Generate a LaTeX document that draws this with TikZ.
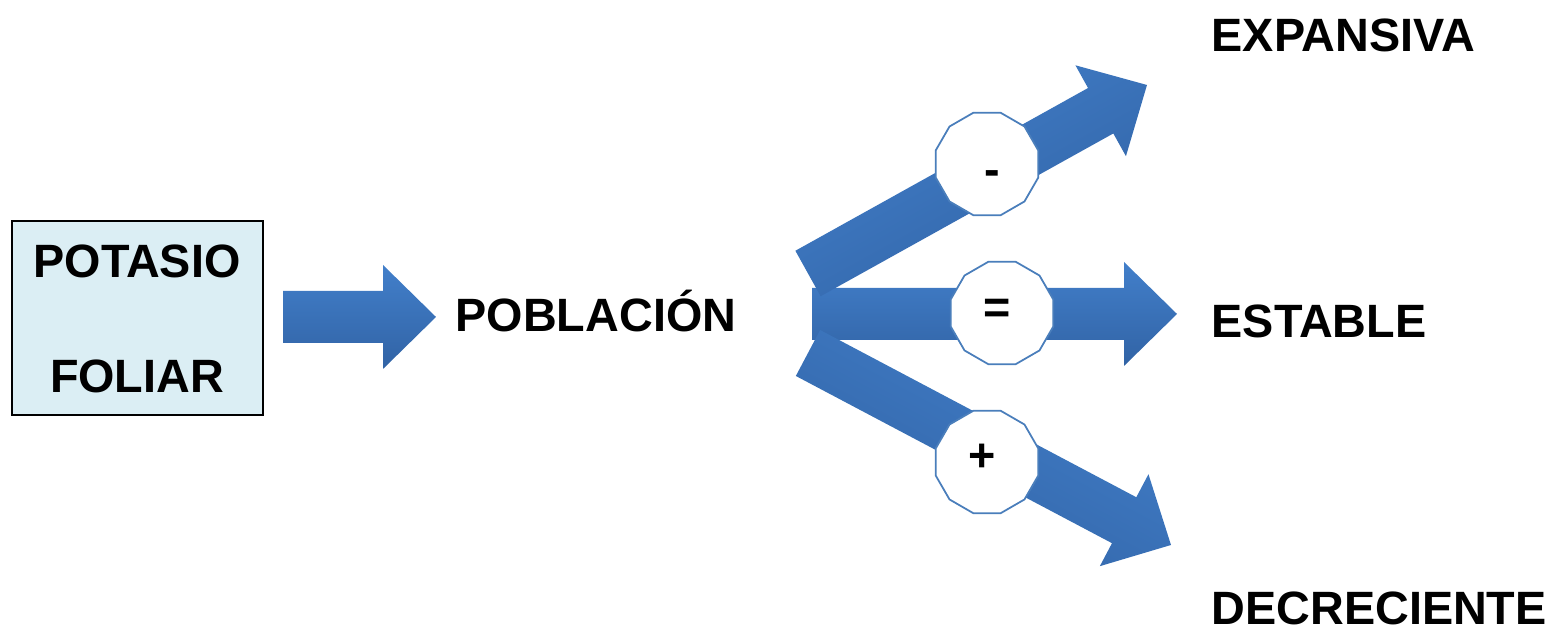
\documentclass[tikz,border=0pt]{standalone}
\usepackage{fontspec}
\setmainfont{Liberation Sans}
\usepackage{xcolor}
\usetikzlibrary{calc,positioning,shapes.geometric}

\definecolor{arrowtop}{HTML}{427FCA}
\definecolor{arrowbot}{HTML}{3163A5}
\definecolor{ringblue}{HTML}{4A7EBB}
\definecolor{boxfill}{HTML}{DBEEF4}

\begin{document}
\begin{tikzpicture}[x=0.1mm,y=-0.1mm,
    lbl/.style={font=\fontsize{13.3}{16}\selectfont\bfseries,inner sep=0pt},
    potbox/.style={draw=black,line width=0.5pt,fill=boxfill,minimum width=25.1mm,minimum height=19.4mm,inner sep=0pt},
    sign/.style={regular polygon,regular polygon sides=12,minimum size=10.6mm,inner sep=0pt,
        text height=0pt,text depth=0pt,
        draw=ringblue,line width=0.5pt,fill=white,font=\fontsize{13.3}{16}\selectfont\bfseries},
    blk/.style={top color=arrowtop,bottom color=arrowbot,draw=none,
        to path={let \p1=($(\tikztotarget)!5.3mm!(\tikztostart)$) in
            -- ($(\tikztostart)!2.6mm!90:(\tikztotarget)$)
            -- ($(\p1)!2.6mm!90:(\tikztotarget)$)
            -- ($(\p1)!5.2mm!90:(\tikztotarget)$)
            -- (\tikztotarget)
            -- ($(\p1)!5.2mm!-90:(\tikztotarget)$)
            -- ($(\p1)!2.6mm!-90:(\tikztotarget)$)
            -- ($(\tikztostart)!2.6mm!-90:(\tikztotarget)$) -- cycle}}]
    \useasboundingbox (0,0) rectangle (1559,630);

    \node[potbox] (potasio) at (137.5,318) {};
    \node[lbl,anchor=base] (potasioT) at (137,278) {POTASIO};
    \node[lbl,anchor=base] (foliarT)  at (137,393) {FOLIAR};

    \node[lbl,anchor=base west] (poblacion)   at (455,332)  {POBLACIÓN};
    \node[lbl,anchor=base west] (expansiva)   at (1211,52)  {EXPANSIVA};
    \node[lbl,anchor=base west] (estable)     at (1211,338) {ESTABLE};
    \node[lbl,anchor=base west] (decreciente) at (1211,625) {DECRECIENTE};

    \coordinate (a0) at (283,317);    \coordinate (a1) at (436,317);
    \coordinate (m0) at (812,314);    \coordinate (m1) at (1177,314);
    \coordinate (u0) at (808,273.5);  \coordinate (u1) at (1147,85);
    \coordinate (d0) at (808,353);    \coordinate (d1) at (1171,545);

    \path[blk] (a0) to (a1);
    \path[blk] (m0) to (m1);
    \path[blk,shading angle=29] (u0) to (u1);
    \path[blk,shading angle=-28] (d0) to (d1);

    \node[sign] (menos) at (987,164)  {\raisebox{-2.2mm}{\hspace{1mm}-}};
    \node[sign] (igual) at (1002,313) {\raisebox{-1.1mm}{=\hspace{1mm}}};
    \node[sign] (mas)   at (987,462)  {\raisebox{-1mm}{+\hspace{1mm}}};
\end{tikzpicture}
\end{document}
